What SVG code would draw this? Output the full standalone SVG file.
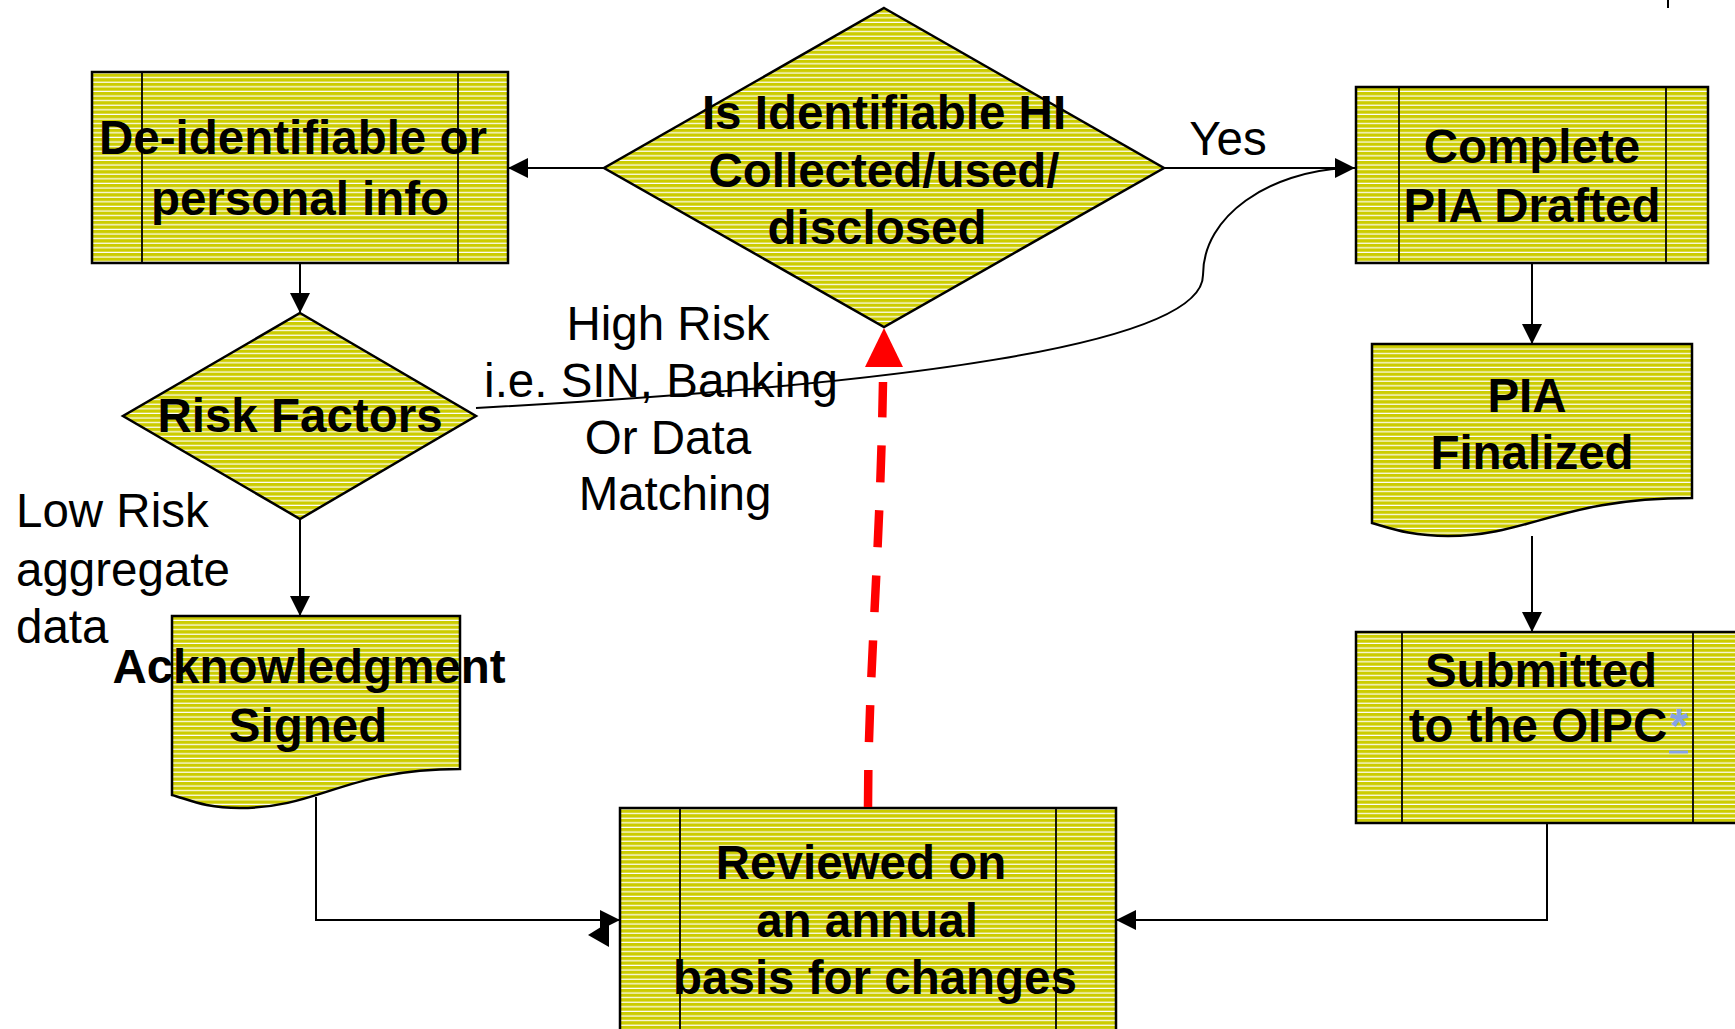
<svg xmlns="http://www.w3.org/2000/svg" width="1735" height="1029" viewBox="0 0 1735 1029">
<defs>
<pattern id="stripes" patternUnits="userSpaceOnUse" x="0" y="0" width="10" height="4.6">
<rect x="0" y="0" width="10" height="4.6" fill="#cccc00"/>
<rect x="0" y="3.4" width="10" height="1.2" fill="#ffffff"/>
</pattern>
<marker id="arr" markerUnits="userSpaceOnUse" markerWidth="20" markerHeight="20" refX="20" refY="10" orient="auto">
<path d="M0,0 L20,10 L0,20 z" fill="#000"/>
</marker>
</defs>
<style>
.shape{fill:url(#stripes);stroke:#000;stroke-width:2.5}
.inner{stroke:#000;stroke-width:1.8;fill:none}
.conn{fill:none;stroke:#000;stroke-width:2}
.bt{font-family:"Liberation Sans",Arial,Helvetica,sans-serif;font-weight:bold;font-size:47.5px;fill:#000;text-anchor:middle}
.nt{font-family:"Liberation Sans",Arial,Helvetica,sans-serif;font-size:47.5px;fill:#000}
</style>
<rect width="1735" height="1029" fill="#fff"/>

<g id="connectors">
<line class="conn" x1="604" y1="168" x2="508" y2="168" marker-end="url(#arr)"/>
<line class="conn" x1="1164" y1="168" x2="1355" y2="168" marker-end="url(#arr)"/>
<line class="conn" x1="300" y1="263" x2="300" y2="313" marker-end="url(#arr)"/>
<line class="conn" x1="300" y1="519" x2="300" y2="616" marker-end="url(#arr)"/>
<path class="conn" d="M476,408 C900,385 1203,345 1203,275 C1203,215 1270,172 1345,168"/>
<line class="conn" x1="1532" y1="263" x2="1532" y2="344" marker-end="url(#arr)"/>
<line class="conn" x1="1532" y1="536" x2="1532" y2="632" marker-end="url(#arr)"/>
<path class="conn" d="M1547,823 V920 H1116" marker-end="url(#arr)"/>
<path class="conn" d="M316,797 V920 H620" marker-end="url(#arr)"/>
<polygon points="588,935 609,922 609,947" fill="#000"/>
<line x1="1668" y1="0" x2="1668" y2="8" stroke="#000" stroke-width="2"/>
</g>

<g id="node-deidentifiable">
<rect class="shape" x="92" y="72" width="416" height="191"/>
<line class="inner" x1="142" y1="72" x2="142" y2="263"/>
<line class="inner" x1="458" y1="72" x2="458" y2="263"/>
<text class="bt" x="293" y="154">De-identifiable or</text>
<text class="bt" x="300" y="215">personal info</text>
</g>

<g id="node-identifiable">
<polygon class="shape" points="884,8 1164,168 884,327 604,168"/>
<text class="bt" x="884" y="129">Is Identifiable HI</text>
<text class="bt" x="884" y="187">Collected/used/</text>
<text class="bt" x="877" y="244">disclosed</text>
</g>

<g id="node-complete">
<rect class="shape" x="1356" y="87" width="352" height="176"/>
<line class="inner" x1="1399" y1="87" x2="1399" y2="263"/>
<line class="inner" x1="1666" y1="87" x2="1666" y2="263"/>
<text class="bt" x="1532" y="163">Complete</text>
<text class="bt" x="1532" y="222">PIA Drafted</text>
</g>

<g id="node-risk">
<polygon class="shape" points="300,313 476,416 300,519 123,416"/>
<text class="bt" x="300" y="432">Risk Factors</text>
</g>

<g id="node-finalized">
<path class="shape" d="M1372,344 H1692 V498 C1560,498 1530,536 1448,536 C1410,536 1390,528 1372,523 Z"/>
<text class="bt" x="1527" y="412">PIA</text>
<text class="bt" x="1532" y="469">Finalized</text>
</g>

<g id="node-submitted">
<rect class="shape" x="1356" y="632" width="384" height="191"/>
<line class="inner" x1="1402" y1="632" x2="1402" y2="823"/>
<line class="inner" x1="1693" y1="632" x2="1693" y2="823"/>
<text class="bt" x="1541" y="687">Submitted</text>
<text class="bt" x="1538" y="742">to the OIPC</text>
<text class="bt" x="1679" y="742" style="fill:#86a3e6">*</text>
<line x1="1669" y1="752" x2="1688" y2="752" stroke="#86a3e6" stroke-width="3"/>
</g>

<g id="node-acknowledgment">
<path class="shape" d="M172,616 H460 V769 C345,769 320,808 240,808 C205,808 190,800 172,795 Z"/>
<text class="bt" x="309" y="683">Acknowledgment</text>
<text class="bt" x="308" y="742">Signed</text>
</g>

<g id="node-reviewed">
<rect class="shape" x="620" y="808" width="496" height="240"/>
<line class="inner" x1="680" y1="808" x2="680" y2="1040"/>
<line class="inner" x1="1056" y1="808" x2="1056" y2="1040"/>
<text class="bt" x="861" y="879">Reviewed on</text>
<text class="bt" x="867" y="937">an annual</text>
<text class="bt" x="875" y="994">basis for changes</text>
</g>

<g id="red-feedback">
<path d="M868,807 C868,680 880,560 883,382" fill="none" stroke="#ff0000" stroke-width="8.5" stroke-dasharray="37 28"/>
<polygon points="884,328 865,367 903,367" fill="#ff0000"/>
</g>

<g id="labels">
<text class="nt" x="1228" y="155" text-anchor="middle">Yes</text>
<text class="nt" x="668" y="340" text-anchor="middle">High Risk</text>
<text class="nt" x="661" y="397" text-anchor="middle">i.e. SIN, Banking</text>
<text class="nt" x="668" y="454" text-anchor="middle">Or Data</text>
<text class="nt" x="675" y="510" text-anchor="middle">Matching</text>
<text class="nt" x="16" y="527">Low Risk</text>
<text class="nt" x="16" y="586">aggregate</text>
<text class="nt" x="16" y="643">data</text>
</g>
</svg>
